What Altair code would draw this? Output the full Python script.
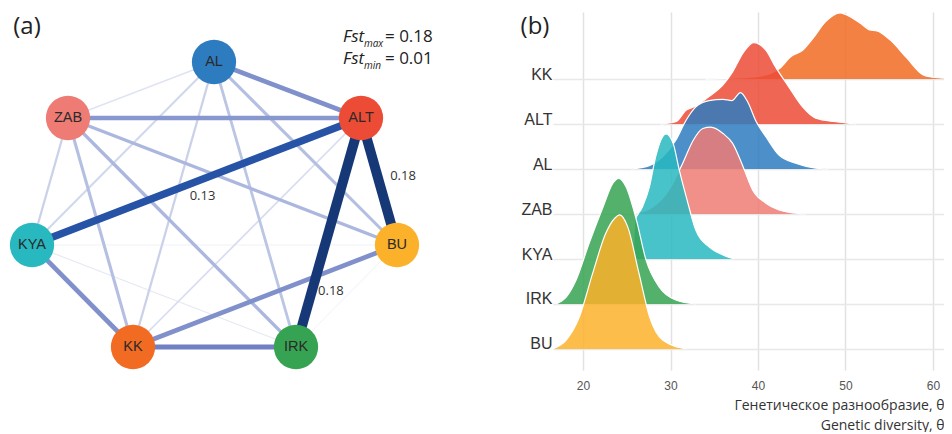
import altair as alt
import pandas as pd

# ---------------- (a) pairwise Fst network ----------------
node_names = ["AL", "ZAB", "ALT", "KYA", "BU", "KK", "IRK"]
node_colors = ["#2e7cc0", "#ee7b74", "#ec4b36", "#27b8c0", "#fbb12a", "#f26b23", "#36a352"]
# network layout coordinates (arbitrary layout units)
node_lx = [0, -146, 147, -182, 183, -81, 82]
node_ly = [157, 101, 101, -26, -26, -128, -128]

edge_from = ["AL", "AL", "AL", "AL", "AL", "AL", "ZAB", "ZAB", "ZAB", "ZAB", "ZAB",
             "ALT", "ALT", "ALT", "ALT", "KYA", "KYA", "KYA", "BU", "BU", "KK"]
edge_to = ["ZAB", "ALT", "KYA", "KK", "IRK", "BU", "ALT", "KYA", "KK", "IRK", "BU",
           "KYA", "BU", "IRK", "KK", "BU", "KK", "IRK", "KK", "IRK", "IRK"]
edge_fst = [0.02, 0.08, 0.03, 0.035, 0.045, 0.05, 0.075, 0.035, 0.05, 0.055, 0.055,
            0.13, 0.18, 0.18, 0.025, 0.01, 0.08, 0.015, 0.08, 0.01, 0.09]

# ---------------- (b) genetic diversity ridgelines ----------------
ridge_rows = ["BU", "IRK", "KYA", "ZAB", "AL", "ALT", "KK"]  # bottom -> top
ridge_theta = {
    "KK": [34, 37, 40, 41.5, 42.5, 43.7, 45.1, 46.3, 47.7, 49.4, 50.2, 51.7, 52.8, 53.6, 55.1, 57.0, 58.9, 60.0, 61.2],
    "ALT": [28.9, 30.6, 31.8, 32.9, 34.4, 36.0, 37.1, 38.3, 39.5, 40.9, 42.0, 43.5, 45.1, 46.6, 48.9, 51.2],
    "AL": [25.5, 27.5, 29.1, 30.6, 31.8, 32.9, 34.4, 36.0, 37.0, 38.0, 38.8, 39.8, 40.9, 42.4, 44.3, 46.6, 48.0],
    "ZAB": [25.7, 28.0, 29.8, 31.4, 32.6, 33.7, 34.6, 36.0, 37.1, 38.3, 39.4, 40.9, 42.4, 44.7, 45.5],
    "KYA": [25.75, 25.9, 26.8, 27.6, 28.3, 29.1, 29.5, 30.3, 31.0, 31.8, 32.9, 34.4, 36.0, 37.3],
    "IRK": [16.9, 18.1, 19.2, 20.7, 22.3, 23.4, 24.1, 24.9, 26.1, 27.2, 28.7, 30.6, 32.9],
    "BU": [16.5, 18.1, 19.6, 21.1, 22.6, 23.6, 24.2, 25.1, 26.4, 27.6, 29.1, 31.8],
}
ridge_dens = {
    "KK": [0, 0.02, 0.06, 0.13, 0.24, 0.49, 0.64, 0.91, 1.27, 1.47, 1.42, 1.24, 1.09, 1.07, 0.87, 0.47, 0.09, 0.04, 0.02],
    "ALT": [0, 0.05, 0.31, 0.40, 0.61, 0.87, 1.16, 1.58, 1.81, 1.64, 1.27, 0.83, 0.38, 0.13, 0.05, 0],
    "AL": [0, 0.07, 0.27, 0.64, 1.09, 1.38, 1.52, 1.55, 1.52, 1.70, 1.50, 1.05, 0.72, 0.31, 0.13, 0.02, 0],
    "ZAB": [0, 0.16, 0.53, 1.13, 1.64, 1.90, 1.93, 1.79, 1.57, 1.05, 0.53, 0.24, 0.09, 0.01, 0],
    "KYA": [0, 0.83, 1.16, 1.61, 2.27, 2.72, 2.78, 2.57, 1.98, 1.38, 0.64, 0.27, 0.09, 0],
    "IRK": [0, 0.16, 0.53, 1.35, 2.16, 2.68, 2.79, 2.61, 1.87, 0.98, 0.38, 0.09, 0],
    "BU": [0, 0.2, 0.72, 1.68, 2.57, 2.90, 2.98, 2.72, 1.68, 0.72, 0.2, 0],
}
x_ticks = [20, 30, 40, 50, 60]
x_title = ["Генетическое разнообразие, θ", "Genetic diversity, θ"]

# ---------------- build tables ----------------
pos = {n: (x, y) for n, x, y in zip(node_names, node_lx, node_ly)}
color_of = dict(zip(node_names, node_colors))

nodes_df = pd.DataFrame({"name": node_names, "x": node_lx, "y": node_ly})
edges_df = pd.DataFrame({"a": edge_from, "b": edge_to, "fst": edge_fst})
edges_df["x1"] = [pos[n][0] for n in edges_df["a"]]
edges_df["y1"] = [pos[n][1] for n in edges_df["a"]]
edges_df["x2"] = [pos[n][0] for n in edges_df["b"]]
edges_df["y2"] = [pos[n][1] for n in edges_df["b"]]
edges_df = edges_df.sort_values("fst", kind="stable").reset_index(drop=True)

W_A, W_B, H = 460, 391, 358
xs_a = alt.Scale(domain=[-206, 254], nice=False, zero=False)
ys_a = alt.Scale(domain=[-151, 207], nice=False, zero=False)

edges = alt.Chart(edges_df).mark_rule(strokeCap="butt").encode(
    x=alt.X("x1:Q", scale=xs_a, axis=None),
    y=alt.Y("y1:Q", scale=ys_a, axis=None),
    x2="x2:Q",
    y2="y2:Q",
    stroke=alt.Stroke("fst:Q", legend=None, scale=alt.Scale(
        domain=[0.01, 0.05, 0.09, 0.13, 0.18],
        range=["#eef0f7", "#b4bfe1", "#7080c4", "#2753a6", "#173876"])),
    strokeWidth=alt.StrokeWidth("fst:Q", legend=None,
                                scale=alt.Scale(domain=[0, 0.18], range=[0.4, 10])),
)

nodes = alt.Chart(nodes_df).mark_circle(size=1960, opacity=1).encode(
    x=alt.X("x:Q", scale=xs_a, axis=None),
    y=alt.Y("y:Q", scale=ys_a, axis=None),
    color=alt.Color("name:N", legend=None,
                    scale=alt.Scale(domain=node_names, range=node_colors)),
)
node_text = alt.Chart(nodes_df).mark_text(
    font="Liberation Sans", fontSize=14.5, color="#2a2a2a").encode(
    x=alt.X("x:Q", scale=xs_a, axis=None),
    y=alt.Y("y:Q", scale=ys_a, axis=None),
    text="name:N",
)

# edge value labels (only the strongest differentiations)
label_specs = [("ALT", "BU", 0.5, 24, -6), ("ALT", "KYA", 0.5, 6, 14), ("ALT", "IRK", 0.755, 19, 0)]
edge_labels = []
for a, b, t, dx, dy in label_specs:
    row = edges_df[(edges_df["a"] == a) & (edges_df["b"] == b)].copy()
    row["t"] = t
    edge_labels.append(
        alt.Chart(row).transform_calculate(
            lx="datum.x1 + datum.t * (datum.x2 - datum.x1)",
            ly="datum.y1 + datum.t * (datum.y2 - datum.y1)",
        ).mark_text(font="Open Sans", fontSize=13, color="#333333", dx=dx, dy=dy).encode(
            x=alt.X("lx:Q", scale=xs_a, axis=None),
            y=alt.Y("ly:Q", scale=ys_a, axis=None),
            text=alt.Text("fst:Q", format=".2f"),
        )
    )

fst_df = pd.DataFrame({"sub": ["max", "min"],
                       "val": [max(edge_fst), min(edge_fst)],
                       "line": [0, 1]})
fst_df["eq"] = ["= %.2f" % v for v in fst_df["val"]]
fst_texts = []
for line_i in [0, 1]:
    d = fst_df[fst_df["line"] == line_i]
    base = 30 + 22 * line_i
    fst_texts += [
        alt.Chart(d).mark_text(font="Open Sans", fontSize=17, fontStyle="italic",
                               align="left", baseline="alphabetic", color="#222222").encode(
            x=alt.value(335), y=alt.value(base), text=alt.value("Fst")),
        alt.Chart(d).mark_text(font="Open Sans", fontSize=10, fontStyle="italic",
                               align="left", baseline="alphabetic", color="#222222").encode(
            x=alt.value(356), y=alt.value(base + 5), text="sub:N"),
        alt.Chart(d).mark_text(font="Open Sans", fontSize=17,
                               align="left", baseline="alphabetic", color="#222222").encode(
            x=alt.value(377), y=alt.value(base), text="eq:N"),
    ]

tag_a = alt.Chart(pd.DataFrame({"t": ["(a)"]})).mark_text(
    font="Open Sans", fontSize=24, color="#222222").encode(
    x=alt.value(19), y=alt.value(15), text="t:N")

panel_a = alt.layer(edges, nodes, node_text, *edge_labels, *fst_texts, tag_a).properties(
    width=W_A, height=H)

# ---------------- panel b ----------------
xs_b = alt.Scale(domain=[16.57, 61.26], nice=False, zero=False)
ys_b = alt.Scale(domain=[-0.467, 7.49], nice=False, zero=False)
label_expr = "[" + ",".join("'%s'" % n for n in ridge_rows) + "][datum.value]"
x_axis_b = alt.Axis(values=x_ticks, grid=True, gridColor="#e2e2e2", gridWidth=1.5,
                    domain=False, ticks=False, tickSize=0, labelPadding=10,
                    labelFont="Liberation Sans", labelFontSize=12, labelColor="#555555",
                    title=x_title, titleFont="Open Sans", titleFontSize=14,
                    titleFontWeight="normal", titleColor="#333333", titleAnchor="end",
                    titleAlign="right", titleLineHeight=20, titlePadding=7)
y_axis_b = alt.Axis(values=list(range(len(ridge_rows))), labelExpr=label_expr,
                    grid=True, gridColor="#e8e8e8", gridWidth=1.3, domain=False,
                    ticks=False, tickSize=0, labelPadding=1, labelFont="Liberation Sans",
                    labelFontSize=16, labelColor="#333333", labelBaseline="alphabetic",
                    title=None)

ridge_layers = []
for idx in reversed(range(len(ridge_rows))):
    name = ridge_rows[idx]
    d = pd.DataFrame({"theta": ridge_theta[name], "h": ridge_dens[name]})
    d["row"] = idx
    d["top"] = d["row"] + d["h"]
    ridge_layers.append(
        alt.Chart(d).mark_area(color=color_of[name], opacity=0.85, interpolate="monotone",
                               clip=True,
                               line={"color": "white", "strokeWidth": 1.2}).encode(
            x=alt.X("theta:Q", scale=xs_b, axis=x_axis_b),
            y=alt.Y("top:Q", scale=ys_b, axis=y_axis_b),
            y2="row:Q",
        )
    )

tag_b = alt.Chart(pd.DataFrame({"t": ["(b)"]})).mark_text(
    font="Open Sans", fontSize=24, color="#222222").encode(
    x=alt.value(-18), y=alt.value(15), text="t:N")

panel_b = alt.layer(*ridge_layers, tag_b).properties(width=W_B, height=H)

chart = alt.hconcat(panel_a, panel_b, spacing=85, bounds="flush",
                    padding={"left": 0, "top": 4, "right": 0, "bottom": 0}
                    ).configure_view(stroke=None)

chart.save("out.html", embed_options={"renderer": "svg", "actions": False})
